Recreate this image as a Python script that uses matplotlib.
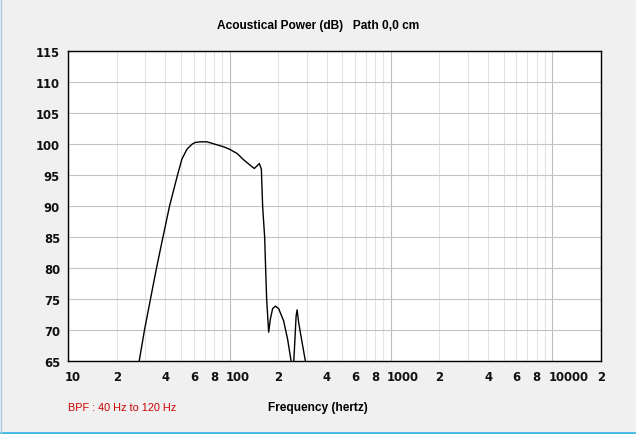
import matplotlib
matplotlib.use("Agg")
import matplotlib.pyplot as plt
import matplotlib.transforms as mtransforms
from matplotlib.lines import Line2D
from matplotlib.ticker import FixedLocator, LogLocator, NullFormatter

# Acoustical power response
FREQ_HZ = [25.0, 27.5, 29.65, 32.3, 35.2, 38.6, 42.4, 47.5, 50.6, 54.4,
           58.4, 61.2, 65.8, 72.3, 81.5, 91.8, 100.0, 111.6, 121.0, 134.5,
           142.4, 147.6, 152.9, 157.4, 160.3, 165.0, 167.3, 169.8, 174.7,
           179.0, 184.9, 192.3, 201.5, 216.4, 229.2, 240.6, 244.0, 252.3,
           258.5, 262.2, 268.3, 281.7, 295.3, 320.0]
POWER_DB = [58.0, 65.0, 70.0, 75.0, 80.0, 85.0, 90.0, 95.0, 97.6, 99.2,
            100.0, 100.3, 100.4, 100.4, 100.0, 99.6, 99.2, 98.5, 97.6, 96.6,
            96.1, 96.5, 96.9, 96.0, 90.0, 85.0, 80.0, 75.0, 69.7,
            71.8, 73.5, 73.9, 73.5, 71.5, 68.5, 65.05, 60.0, 66.9,
            72.3, 73.3, 71.2, 68.0, 65.0, 60.0]

X_TICKS = [10, 20, 40, 60, 80, 100, 200, 400, 600, 800, 1000, 2000, 4000,
           6000, 8000, 10000, 20000]
X_TICK_LABELS = ["10", "2", "4", "6", "8", "100", "2", "4", "6", "8", "1000",
                 "2", "4", "6", "8", "10000", "2"]
Y_TICKS = [65, 70, 75, 80, 85, 90, 95, 100, 105, 110, 115]

TITLE = "Acoustical Power (dB)   Path 0,0 cm"
X_LABEL = "Frequency (hertz)"
NOTE = "BPF : 40 Hz to 120 Hz"

BG = "#f0f0f0"

fig = plt.figure(figsize=(6.36, 4.35), dpi=100, facecolor=BG)
ax = fig.add_axes([68.3 / 636, 72.7 / 435, 532.4 / 636, 310.0 / 435])
ax.set_facecolor("white")

ax.plot(FREQ_HZ, POWER_DB, color="black", linewidth=1.0, zorder=3)

ax.set_xscale("log")
ax.set_xlim(10, 20000)
ax.set_ylim(65, 115)

ax.xaxis.set_major_locator(FixedLocator([10, 100, 1000, 10000]))
ax.xaxis.set_minor_locator(LogLocator(base=10, subs=range(2, 10), numticks=20))
ax.xaxis.set_minor_formatter(NullFormatter())
ax.xaxis.set_major_formatter(NullFormatter())
ax.set_yticks(Y_TICKS)

ax.grid(True, which="major", axis="x", color="#bdbdbd", linewidth=0.8)
ax.grid(True, which="minor", axis="x", color="#e2e2e2", linewidth=0.8)
ax.grid(True, which="major", axis="y", color="#c4c4c4", linewidth=0.8)
ax.set_axisbelow(True)

for spine in ax.spines.values():
    spine.set_color("black")
    spine.set_linewidth(1.0)

ax.tick_params(axis="both", which="both", length=0)
ax.tick_params(axis="y", pad=6)
for lbl in ax.get_yticklabels():
    lbl.set_fontfamily("DejaVu Sans")
    lbl.set_fontweight("bold")
    lbl.set_fontsize(8.4)
    lbl.set_color("#111111")

# x labels: first character centred on the gridline
shift = mtransforms.ScaledTranslation(-3.8 / 100, 0, fig.dpi_scale_trans)
xform = mtransforms.blended_transform_factory(ax.transData, ax.transAxes) + shift
for pos, text in zip(X_TICKS, X_TICK_LABELS):
    ax.text(pos, -0.028, text, transform=xform, ha="left", va="top",
            fontfamily="DejaVu Sans", fontweight="bold", fontsize=8.4,
            color="#111111", clip_on=False)

fig.text(318 / 636, 1 - 26 / 435, TITLE, ha="center", va="center",
         fontfamily="Liberation Sans", fontweight="bold", fontsize=8.6)
fig.text(318 / 636, 1 - 408 / 435, X_LABEL, ha="center", va="center",
         fontfamily="Liberation Sans", fontweight="bold", fontsize=8.6)
fig.text(67.5 / 636, 1 - 408 / 435, NOTE, ha="left", va="center",
         fontfamily="Liberation Sans", fontsize=7.8, color="#cc0000")

# window edges
fig.add_artist(Line2D([0, 1], [1.5 / 435, 1.5 / 435], transform=fig.transFigure,
                      color="#3fb8e2", linewidth=2.0))
fig.add_artist(Line2D([0.5 / 636, 0.5 / 636], [0, 1], transform=fig.transFigure,
                      color="#a9cbe8", linewidth=1.0))

fig.savefig("out.png", dpi=100, facecolor=BG)
